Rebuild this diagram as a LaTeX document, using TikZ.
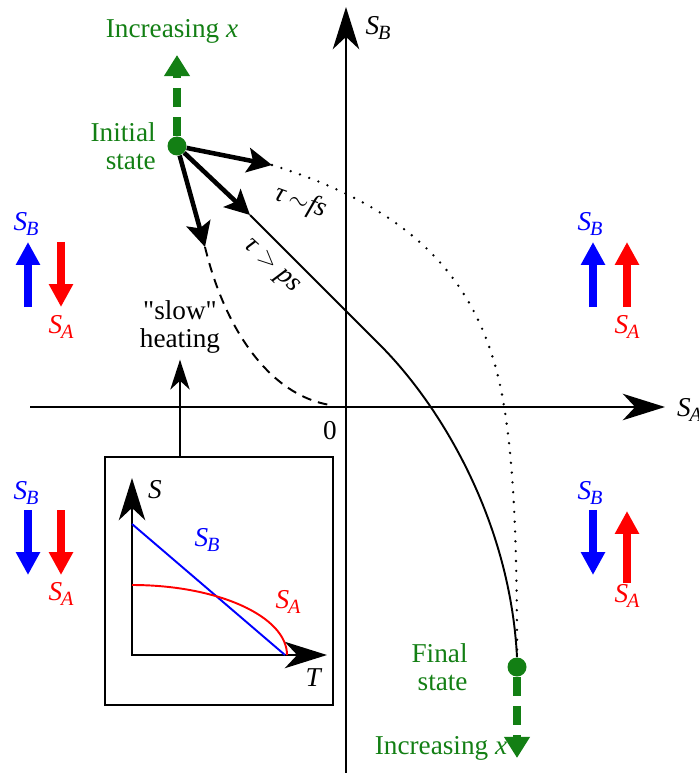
\documentclass[tikz,border=0pt]{standalone}
\usepackage{fontspec}
\setmainfont{Liberation Serif}[Ligatures=TeXOff]
\usetikzlibrary{arrows.meta, positioning}
\definecolor{spinblue}{HTML}{0000FF}
\definecolor{spinred}{HTML}{FF0000}
\definecolor{stategreen}{HTML}{137F14}
% italic S with a lowered italic index, as in S_A and S_B
\newcommand{\spinsym}[1]{\textit{S}\kern-0.04em\raisebox{-0.45ex}{\fontsize{11.5}{12}\selectfont\textit{#1}}}

\begin{document}
\begin{tikzpicture}[x=0.02cm, y=-0.02cm,
    every node/.style={font=\fontsize{15.5}{16}\selectfont},
    >={Stealth[length=24pt, width=15pt, inset=7pt]},
    axis/.style={line width=1.6pt, ->},
    kick/.style={line width=2.6pt, -{Stealth[length=14pt, width=14pt, inset=3pt]}},
    xpath/.style={stategreen, line width=4pt, dash pattern=on 11pt off 5.5pt, -{Triangle[length=12pt, width=14pt]}},
    statedot/.style={circle, fill=stategreen, minimum size=0.38cm, inner sep=0pt},
    statelabel/.style={text=stategreen, align=right},
    route/.style={line width=1.1pt},
    heatarrow/.style={line width=1.2pt, -{Stealth[length=17pt, width=11pt, inset=5pt]}},
    spinb/.style={spinblue, line width=5pt, -{Triangle[length=13pt, width=13pt]}},
    spina/.style={spinred, line width=5pt, -{Triangle[length=13pt, width=13pt]}}
]
\useasboundingbox (0,0) rectangle (698,773);

% axes
\coordinate (sbbot) at (346,773);
\coordinate (sbtop) at (346,7);
\coordinate (saleft) at (30,407);
\coordinate (saright) at (665,407);
\draw[axis] (sbbot) -- (sbtop);
\draw[axis] (saleft) -- (saright);
\node[anchor=west] (salbl) at (671,410) {\spinsym{A}};
\node (sblbl) at (378,28) {\spinsym{B}};
\node (zero) at (330,431) {0};

% states
\node[statedot] (init) at (177,146) {};
\node[statedot] (final) at (517,667) {};
\node[statelabel, left=3pt of init] (initlbl) {Initial\\state};
\node[statelabel, left=19pt of final] (finallbl) {Final\\state};
\coordinate (uptip) at (177,55);
\coordinate (downtip) at (517,758);
\draw[xpath] (init) -- (uptip);
\draw[xpath] (final) -- (downtip);
\node[text=stategreen] (upx) at (172,31) {Increasing \textit{x}};
\node[text=stategreen] (downx) at (441,748) {Increasing \textit{x}};

% three routes out of the initial state
\coordinate (fastend) at (272,165);
\coordinate (slowend) at (250,215);
\coordinate (heatend) at (205,247);
\coordinate (bend) at (380,345);
\draw[kick] (init) -- (fastend);
\draw[kick] (init) -- (slowend);
\draw[kick] (init) -- (heatend);
\draw[route, line cap=round, dash pattern=on 0pt off 5.6pt, line width=1.5pt]
    (fastend) .. controls (400,205) and (480,270) .. (503,400)
    .. controls (515,468) and (517,560) .. (final.north);
\draw[route] (slowend) -- (bend) .. controls (440,405) and (510,520) .. (final.north);
\draw[route, dash pattern=on 5.5pt off 4pt] (heatend) .. controls (225,330) and (270,395) .. (330,405);
\node[rotate=-20] (fslbl) at (301,202) {\textit{τ}$\,\sim$\textit{fs}};
\node[rotate=-43] (pslbl) at (271,267) {\textit{τ} $>$ \textit{ps}};

% inset: entropy against temperature
\node[draw, line width=1.4pt, minimum width=4.56cm, minimum height=4.96cm] (inset) at (219,581) {};
\node[align=center] (heat) at (180,327) {"slow"\\heating};
\draw[heatarrow] (inset.north -| heat) -- (heat);
\coordinate (io) at (132,655);
\coordinate (is) at (132,478);
\coordinate (it) at (327,655);
\draw[line width=1.6pt, <->] (is) -- (io) -- (it);
\draw[spinblue, line width=1.1pt] (132,524) -- (285,655);
\draw[spinred, line width=1.1pt] (132,585) arc[start angle=-90, end angle=0, x radius=155, y radius=70];
\node (slbl) at (155,490) {\textit{S}};
\node (tlbl) at (314,678) {\textit{T}};
\node[text=spinblue] (insb) at (207,540) {\spinsym{B}};
\node[text=spinred] (insa) at (288,602) {\spinsym{A}};

% spin pictures in the four quadrants
\node[text=spinblue] (sbNW) at (26,224) {\spinsym{B}};
\node[text=spinred] (saNW) at (61,327) {\spinsym{A}};
\draw[spinb] (28,307) -- (28,242);
\draw[spina] (61,242) -- (61,307);
\node[text=spinblue] (sbNE) at (590,224) {\spinsym{B}};
\node[text=spinred] (saNE) at (627,327) {\spinsym{A}};
\draw[spinb] (593,307) -- (593,242);
\draw[spina] (627,307) -- (627,242);
\node[text=spinblue] (sbSW) at (26,493) {\spinsym{B}};
\node[text=spinred] (saSW) at (61,594) {\spinsym{A}};
\draw[spinb] (28,510) -- (28,575);
\draw[spina] (61,510) -- (61,575);
\node[text=spinblue] (sbSE) at (590,493) {\spinsym{B}};
\node[text=spinred] (saSE) at (627,596) {\spinsym{A}};
\draw[spinb] (593,510) -- (593,575);
\draw[spina] (627,583) -- (627,511);
\end{tikzpicture}
\end{document}
